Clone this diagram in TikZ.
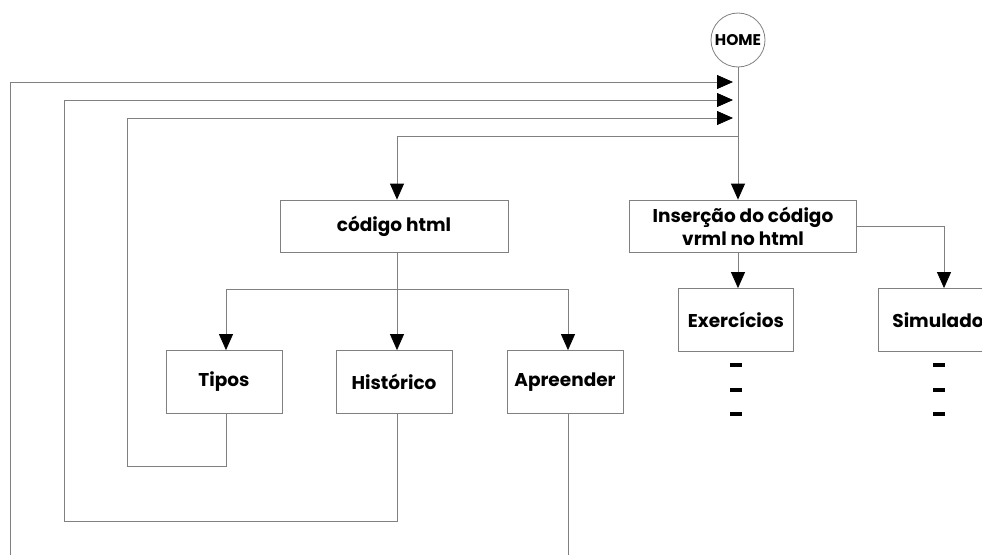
\documentclass[tikz,border=0pt]{standalone}
\usepackage{fontspec}
\setmainfont{Poppins}
\usetikzlibrary{arrows.meta}
\usetikzlibrary{calc}

\begin{document}
\begin{tikzpicture}[x=1pt,y=-1pt,
    box/.style={draw=gray,line width=0.8pt,minimum width=116pt,minimum height=63pt,inner sep=2pt,font=\bfseries\fontsize{18.5}{23}\selectfont},
    link/.style={draw=gray,line width=0.8pt},
    tip/.style={-{Triangle[length=16pt,width=14pt,color=black]}}]
            \clip (0,0) rectangle (982,554);
            %\draw[red] (0,0) rectangle (982,554);
            \node[circle,draw=gray,line width=0.8pt,minimum size=54pt,inner sep=0pt,font=\bfseries\fontsize{15.5}{18}\selectfont] (home) at (738,40) {HOME};
            \node[box,minimum width=228pt,minimum height=52pt] (html) at (394,226) {código html};
            \node[box,minimum width=227pt,minimum height=52pt,align=center] (vrml) at (743,226) {Inserção do código\\vrml no html};
            \node[box] (tipos) at (224,382) {Tipos};
            \node[box] (hist) at (394,382) {Histórico};
            \node[box] (apr) at (565,382) {Apreender};
            \node[box,minimum width=115pt] (exer) at (736,320) {Exercícios};
            \node[box,minimum width=120pt] (simu) at (938,320) {Simulado};
            % pontos de retorno na linha do HOME
            \coordinate (t1) at (733,82);
            \coordinate (t2) at (733,100);
            \coordinate (t3) at (733,118);
            \coordinate (split) at (738,136);
            \coordinate (fork) at (397,289);
            \draw[link,tip] (home.south) -- (home.south |- vrml.north);
            \draw[link,tip] (split) -| (fork |- html.north);
            \draw[link,tip] (fork |- html.south) -- (fork |- hist.north);
            \draw[link,tip] (fork) -| ($(tipos.north)+(2,0)$);
            \draw[link,tip] (fork) -| ($(apr.north)+(3,0)$);
            \draw[link,tip] (vrml.south -| home.south) -- (home.south |- exer.north);
            \draw[link,tip] (vrml.east) -| ($(simu.north)+(6,0)$);
            % retornos
            \draw[link,tip] ($(tipos.south)+(2,0)$) |- (127,466) |- (t3);
            \draw[link,tip] (fork |- hist.south) |- (64,521) |- (t2);
            \draw[link,tip] ($(apr.south)+(3,0)$) -- (568,570) -| (10,82) -- (t1);
            \foreach \n/\x in {exer/736,simu/939}
              \foreach \k/\y in {1/365,2/390,3/414}
                \node[fill=black,minimum width=12pt,minimum height=4.5pt,inner sep=0pt] (\n\k) at (\x,\y) {};
        \end{tikzpicture}
\end{document}
